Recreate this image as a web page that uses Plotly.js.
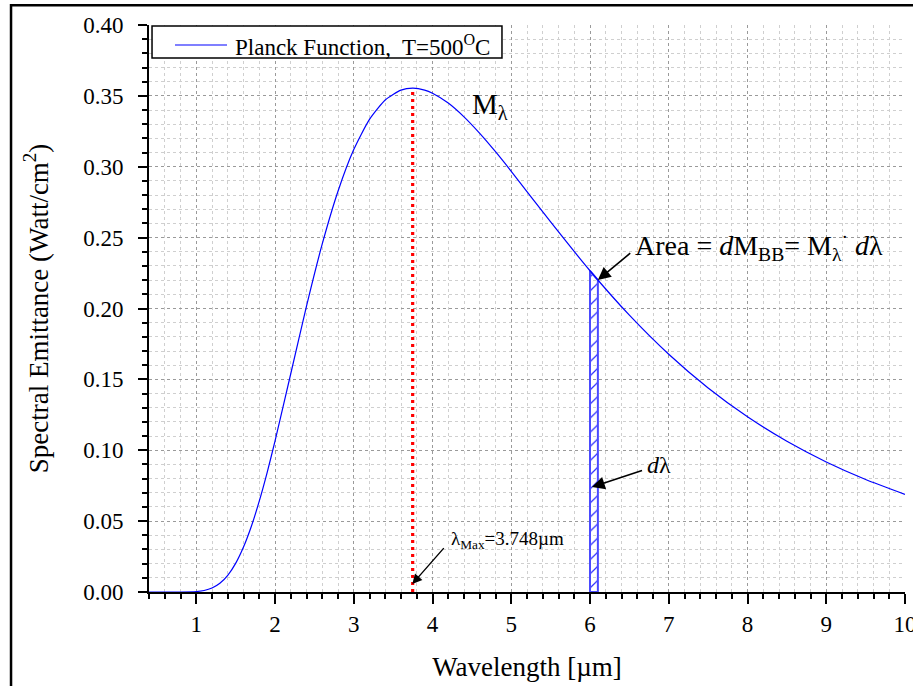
<!DOCTYPE html>
<html>
<head>
<meta charset="utf-8">
<script src="https://cdn.plot.ly/plotly-3.0.1.min.js"></script>
<style>html,body{margin:0;padding:0;background:#fff;}#chart{width:913px;height:686px;}</style>
</head>
<body>
<div id="chart"></div>
<script>
// Wavelength (µm) and spectral emittance (W/cm²/µm)
const wavelength = [0.4, 0.6, 0.8, 1.0, 1.1, 1.2, 1.3, 1.4, 1.5, 1.6, 1.7, 1.8, 1.9, 2.0, 2.2, 2.4, 2.6, 2.8, 3.0, 3.2, 3.4, 3.6, 3.75, 3.9, 4.0, 4.2, 4.4, 4.6, 4.8, 5.0, 5.5, 6.0, 6.5, 7.0, 7.5, 8.0, 8.5, 9.0, 9.5, 10.0];
const emittance  = [0.0, 0.0, 0.00001, 0.00031, 0.00104, 0.00277, 0.00612, 0.01174, 0.02017, 0.03171, 0.04641, 0.06408, 0.08427, 0.1064, 0.15396, 0.20169, 0.24553, 0.28275, 0.31213, 0.33344, 0.34708, 0.35402, 0.3554, 0.3541, 0.3519, 0.34493, 0.33521, 0.32357, 0.31062, 0.29679, 0.26108, 0.22664, 0.19529, 0.16771, 0.14391, 0.1236, 0.10634, 0.09176, 0.07938, 0.06891];

// Peak marker
const peakX = [3.748, 3.748];
const peakY = [0, 0.3554];

// Hatched strip dλ (6.0 – 6.1 µm)
const stripX = [6.0, 6.0, 6.1, 6.1, 6.0];
const stripY = [0, 0.2266, 0.2201, 0, 0];

const seriesName = 'Planck Function,\u00a0 T=500<sup>O</sup>C';
const xTitle = 'Wavelength [µm]';
const yTitle = 'Spectral Emittance (Watt/cm<sup>2</sup>)';

const FONT = 'Liberation Serif, Times New Roman, serif';

const traces = [
  {
    x: stripX, y: stripY, type: 'scatter', mode: 'lines',
    fill: 'toself', fillcolor: 'rgba(255,255,255,0)',
    fillpattern: {shape: '/', fgcolor: '#2a2aff', bgcolor: 'rgba(255,255,255,0)', size: 10, solidity: 0.12},
    line: {color: '#4a4aff', width: 2}, showlegend: false, hoverinfo: 'skip'
  },
  {
    x: peakX, y: peakY, type: 'scatter', mode: 'lines',
    line: {color: '#ff0000', width: 3.2, dash: '3px,4px'}, showlegend: false
  },
  {
    x: wavelength, y: emittance, type: 'scatter', mode: 'lines',
    name: seriesName, showlegend: false,
    line: {color: '#0000ff', width: 1.2, shape: 'spline', smoothing: 0.6}
  }
];

const layout = {
  width: 913, height: 686,
  margin: {l: 149, r: 8, t: 25, b: 94},
  paper_bgcolor: '#ffffff', plot_bgcolor: '#ffffff',
  font: {family: FONT, color: '#000', size: 22},
  showlegend: false,
  xaxis: {
    range: [0.4, 10], tick0: 0, dtick: 1,
    showline: true, linecolor: '#000', linewidth: 2,
    ticks: 'outside', ticklen: 10, tickwidth: 2, tickcolor: '#000',
    tickfont: {family: FONT, size: 23, color: '#000'},
    ticklabeloverflow: 'allow',
    showgrid: true, gridcolor: '#9a9a9a', griddash: 'dot', gridwidth: 1,
    zeroline: false,
    minor: {dtick: 0.2, ticks: 'outside', ticklen: 5, tickwidth: 2, tickcolor: '#000', showgrid: true, gridcolor: '#cfcfcf', griddash: 'dot', gridwidth: 1},
    title: {text: xTitle, font: {family: FONT, size: 27, color: '#000'}, standoff: 22}
  },
  yaxis: {
    range: [0, 0.4], tick0: 0, dtick: 0.05, tickformat: '.2f',
    showline: true, linecolor: '#000', linewidth: 2,
    ticks: 'outside', ticklen: 9, tickwidth: 2, tickcolor: '#000',
    ticklabelstandoff: 10,
    tickfont: {family: FONT, size: 23, color: '#000'},
    showgrid: true, gridcolor: '#9a9a9a', griddash: 'dot', gridwidth: 1,
    zeroline: false,
    minor: {dtick: 0.01, ticks: 'outside', ticklen: 5, tickwidth: 2, tickcolor: '#000', showgrid: true, gridcolor: '#cfcfcf', griddash: 'dot', gridwidth: 1},
    title: {text: yTitle, font: {family: FONT, size: 27, color: '#000'}, standoff: 27}
  },
  shapes: [
    // outer frame
    {type: 'rect', xref: 'paper', yref: 'paper', x0: -0.1825, x1: 1.2, y0: -0.4, y1: 1.035, line: {color: '#000', width: 2.5}, fillcolor: 'rgba(0,0,0,0)', layer: 'above'},
    // legend box and sample line
    {type: 'rect', xref: 'paper', yref: 'paper', x0: 0.004, x1: 0.4669, y0: 0.9418, y1: 0.9982, line: {color: '#000', width: 1.5}, fillcolor: '#ffffff', layer: 'above'},
    {type: 'line', xref: 'paper', yref: 'paper', x0: 0.0344, x1: 0.1032, y0: 0.9647, y1: 0.9647, line: {color: '#0000ff', width: 1.2}, layer: 'above'}
  ],
  annotations: [
    {x: 0.1111, y: 0.9647, xref: 'paper', yref: 'paper', xanchor: 'left', yanchor: 'middle', showarrow: false,
     text: seriesName, font: {family: FONT, size: 23, color: '#000'}},
    {x: 4.476, y: 0.343, xref: 'x', yref: 'y', xanchor: 'left', yanchor: 'middle', showarrow: false,
     text: 'M<sub>λ</sub>', font: {family: FONT, size: 29, color: '#000'}},
    {x: 6.1, y: 0.2201, xref: 'x', yref: 'y', ax: 6.53, ay: 0.2399, axref: 'x', ayref: 'y',
     text: '', showarrow: true, arrowhead: 2, arrowsize: 1.6, arrowwidth: 1.6, arrowcolor: '#000', standoff: 0},
    {x: 6.54, y: 0.2448, xref: 'x', yref: 'y', xanchor: 'left', yanchor: 'middle', showarrow: false,
     text: 'Area = <i>d</i>M<sub>BB</sub>= M<sub>λ</sub><sup>·</sup> <i>d</i>λ', font: {family: FONT, size: 28, color: '#000'}},
    {x: 6.025, y: 0.074, xref: 'x', yref: 'y', ax: 6.68, ay: 0.086, axref: 'x', ayref: 'y',
     text: '', showarrow: true, arrowhead: 2, arrowsize: 1.6, arrowwidth: 1.6, arrowcolor: '#000', standoff: 0},
    {x: 6.7, y: 0.0896, xref: 'x', yref: 'y', xanchor: 'left', yanchor: 'middle', showarrow: false,
     text: '<i>d</i>λ', font: {family: FONT, size: 24, color: '#000'}},
    {x: 3.743, y: 0.0056, xref: 'x', yref: 'y', ax: 4.16, ay: 0.032, axref: 'x', ayref: 'y',
     text: '', showarrow: true, arrowhead: 2, arrowsize: 1.4, arrowwidth: 1.4, arrowcolor: '#000', standoff: 0},
    {x: 4.21, y: 0.037, xref: 'x', yref: 'y', xanchor: 'left', yanchor: 'middle', showarrow: false,
     text: 'λ<sub>Max</sub>=3.748µm', font: {family: FONT, size: 19, color: '#000'}}
  ]
};

Plotly.newPlot('chart', traces, layout, {displayModeBar: false, staticPlot: true});
</script>
</body>
</html>
